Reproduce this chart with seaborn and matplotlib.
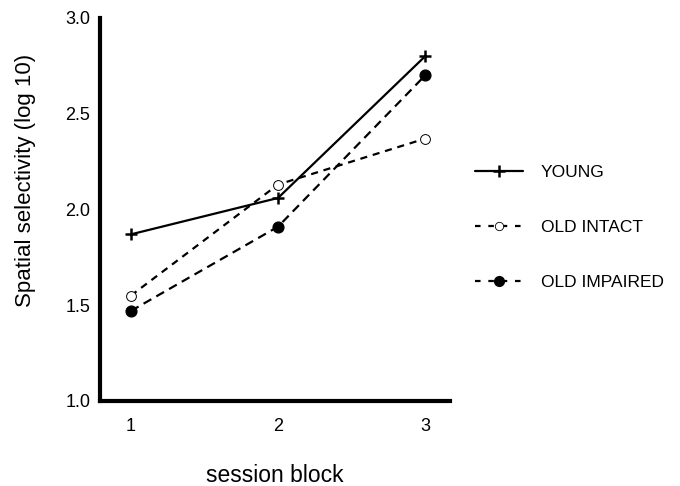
"""Spatial selectivity by session block for young and old groups."""

import matplotlib
matplotlib.use("Agg")
import matplotlib.pyplot as plt
import pandas as pd
import seaborn as sns
from matplotlib.lines import Line2D

sessions = [1, 2, 3]
young = [1.87, 2.06, 2.80]
old_intact = [1.55, 2.13, 2.37]
old_impaired = [1.47, 1.91, 2.70]
groups = ["YOUNG", "OLD INTACT", "OLD IMPAIRED"]

df = pd.DataFrame({
    "session": sessions * 3,
    "value": young + old_intact + old_impaired,
    "group": [g for g in groups for _ in sessions],
})

sns.set_style("white")
plt.rcParams["font.family"] = ["Liberation Sans", "DejaVu Sans"]
plt.rcParams["text.color"] = "black"
plt.rcParams["axes.labelcolor"] = "black"
plt.rcParams["xtick.color"] = "black"
plt.rcParams["ytick.color"] = "black"

fig = plt.figure(figsize=(6.8, 4.86), dpi=100)
ax = fig.add_axes([0.147, 0.175, 0.515, 0.788])

dashes = {
    "YOUNG": "-",
    "OLD INTACT": (0, (3.2, 2.6)),
    "OLD IMPAIRED": (0, (4.0, 2.6)),
}

for g in groups:
    sub = df[df["group"] == g]
    sns.lineplot(data=sub, x="session", y="value", ax=ax, color="black",
                 linewidth=1.6, linestyle=dashes[g], legend=False)

# markers drawn separately so they sit on top of the lines
young_df = df[df["group"] == "YOUNG"]
ax.scatter(young_df["session"], young_df["value"], marker="+", s=70,
           color="black", linewidths=1.8, zorder=5)
intact_df = df[df["group"] == "OLD INTACT"]
ax.scatter(intact_df["session"], intact_df["value"], marker="o", s=50,
           facecolor="white", edgecolor="black", linewidths=0.7, zorder=5)
impaired_df = df[df["group"] == "OLD IMPAIRED"]
ax.scatter(impaired_df["session"], impaired_df["value"], marker="o", s=60,
           color="black", zorder=5)

ax.set_xlim(0.79, 3.17)
ax.set_ylim(1.0, 3.0)
ax.set_xticks(sessions)
ax.set_yticks([1.0, 1.5, 2.0, 2.5, 3.0])
ax.set_yticklabels(["1.0", "1.5", "2.0", "2.5", "3.0"])
ax.tick_params(direction="in", length=3, width=0.6, color="#888888",
               labelsize=13, labelcolor="black")
ax.tick_params(axis="y", pad=7)
ax.tick_params(axis="x", pad=12)

for side in ["top", "right"]:
    ax.spines[side].set_visible(False)
for side in ["left", "bottom"]:
    ax.spines[side].set_linewidth(3)
    ax.spines[side].set_color("black")

ax.set_xlabel("session block", fontsize=16.5, labelpad=21)
ax.set_ylabel("Spatial selectivity (log 10)", fontsize=16)
ax.yaxis.set_label_coords(-0.182, 0.577)

# legend handles
handles = [
    Line2D([], [], color="black", linestyle="-", linewidth=1.6, marker="+",
           markersize=8, markeredgewidth=1.8),
    Line2D([], [], color="black", linestyle=(0, (2.5, 3.5)), linewidth=1.6,
           marker="o", markersize=6, markerfacecolor="white",
           markeredgewidth=0.6),
    Line2D([], [], color="black", linestyle=(0, (2.5, 3.5)), linewidth=1.6,
           marker="o", markersize=7, markerfacecolor="black"),
]
fig.legend(handles, groups, loc="upper left", bbox_to_anchor=(0.675, 0.692),
           frameon=False, fontsize=12.5, labelspacing=2.28, handlelength=2.8,
           handletextpad=1.0)

fig.savefig("out.png", dpi=100)
